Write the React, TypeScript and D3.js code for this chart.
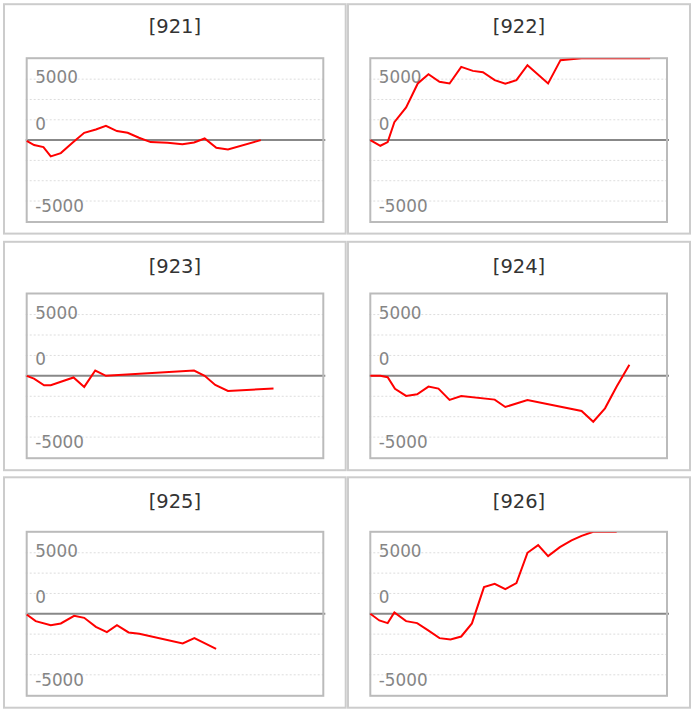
import React from "react";
import * as d3 from "d3";

// ---- data (x = day offset, y = value) ----
const titles = ["[921]", "[922]", "[923]", "[924]", "[925]", "[926]"];

const x921 = [0, 0.7, 1.58, 2.27, 3.22, 4.32, 5.43, 6.53, 7.48, 8.52, 9.53, 10.6, 11.7, 13.3, 14.7, 15.8, 16.8, 17.9, 19.0, 22.1];
const y921 = [-55, -410, -575, -1340, -1065, -220, 600, 875, 1175, 740, 600, 190, -165, -220, -330, -190, 135, -630, -765, 0];

const x922 = [0, 0.95, 1.64, 2.27, 3.38, 4.48, 5.49, 6.53, 7.48, 8.58, 9.68, 10.63, 11.74, 12.74, 13.79, 14.83, 16.78, 17.95, 19.94, 21.0, 22.1, 23.2, 24.3, 25.4, 26.4];
const y922 = [0, -465, -165, 1475, 2680, 4645, 5410, 4780, 4645, 6010, 5680, 5575, 4920, 4620, 4920, 6150, 4645, 6560, 6800, 7200, 7600, 8000, 8300, 8600, 8900];

const x923 = [0, 0.69, 1.64, 2.27, 4.42, 5.43, 6.47, 7.48, 15.8, 16.8, 17.8, 19.0, 23.3];
const y923 = [0, -220, -765, -765, -135, -900, 435, 0, 435, 0, -740, -1230, -1040];

const x924 = [0, 0.95, 1.64, 2.33, 3.38, 4.42, 5.49, 6.43, 7.48, 8.58, 11.74, 12.74, 14.83, 19.94, 21.04, 22.15, 23.25, 24.45];
const y924 = [0, 0, -110, -1065, -1640, -1500, -875, -1040, -1965, -1640, -1940, -2540, -1965, -2870, -3745, -2650, -875, 900];

const x925 = [0, 0.85, 2.27, 3.22, 4.48, 5.43, 6.53, 7.57, 8.52, 9.62, 10.63, 14.73, 15.83, 17.88];
const y925 = [-55, -600, -930, -790, -165, -330, -1065, -1500, -930, -1530, -1640, -2430, -1990, -2870];

const x926 = [0, 0.85, 1.64, 2.27, 3.38, 4.42, 5.43, 6.53, 7.57, 8.58, 9.59, 10.73, 11.74, 12.74, 13.79, 14.83, 15.84, 16.78, 17.89, 18.99, 19.94, 21.04, 23.25];
const y926 = [0, -545, -765, 110, -600, -765, -1340, -1995, -2100, -1860, -790, 2185, 2460, 2020, 2515, 5000, 5630, 4725, 5465, 6010, 6390, 6720, 7200];

const xDomain = [0, 28];
const yDomain = [-6720, 6720];
const gridValues = [5000, 10000 / 3, 5000 / 3, -5000 / 3, -10000 / 3, -5000];
const tickLabels = ["5000", "0", "-5000"];
const tickLabelAt = [5000, 5000 / 3, -5000];

const seriesX = [x921, x922, x923, x924, x925, x926];
const seriesY = [y921, y922, y923, y924, y925, y926];

// ---- layout ----
const cols = [
  { outerL: 4, outerR: 345.7, plotL: 26.7, plotR: 323.3 },
  { outerL: 348, outerR: 690, plotL: 370.3, plotR: 667 },
];
const rows = [
  { outerT: 4.2, outerB: 233.6, plotT: 58.2, plotB: 222, titleY: 33.3 },
  { outerT: 241.8, outerB: 470.2, plotT: 293.5, plotB: 458.2, titleY: 273 },
  { outerT: 477.3, outerB: 707.7, plotT: 531.8, plotB: 695.8, titleY: 508.3 },
];
const labelDy = [4.3, 10, 11];

function Panel({ i }: { i: number }) {
  const c = cols[i % 2];
  const r = rows[Math.floor(i / 2)];
  const x = d3.scaleLinear().domain(xDomain).range([c.plotL, c.plotR]);
  const y = d3.scaleLinear().domain(yDomain).range([r.plotB, r.plotT]).clamp(true);
  const pts = seriesX[i].map((d, k) => [d, seriesY[i][k]] as [number, number]);
  const line = d3
    .line<[number, number]>()
    .x((d) => x(d[0]))
    .y((d) => y(d[1]));
  const clipId = `clip${i}`;
  return (
    <g>
      <rect
        x={c.outerL}
        y={r.outerT}
        width={c.outerR - c.outerL}
        height={r.outerB - r.outerT}
        fill="#fff"
        stroke="#cccccc"
        strokeWidth={2}
      />
      <text
        x={(c.outerL + c.outerR) / 2}
        y={r.titleY}
        textAnchor="middle"
        fontFamily="DejaVu Sans"
        fontSize={19.5}
        fill="#333"
      >
        {titles[i]}
      </text>
      <clipPath id={clipId}>
        <rect x={c.plotL - 1} y={r.plotT + 0.4} width={c.plotR - c.plotL + 1} height={r.plotB - r.plotT} />
      </clipPath>
      {gridValues.map((g, k) => (
        <line
          key={k}
          x1={c.plotL - 1}
          x2={c.plotR}
          y1={y(g)}
          y2={y(g)}
          stroke="#dddddd"
          strokeWidth={1}
          strokeDasharray="2,2"
        />
      ))}
      {tickLabels.map((t, k) => (
        <text
          key={t}
          x={c.plotL + 8.5}
          y={y(tickLabelAt[k]) + labelDy[k]}
          fontFamily="DejaVu Sans"
          fontSize={16.8}
          fill="#858585"
        >
          {t}
        </text>
      ))}
      <line x1={c.plotL - 1} x2={c.plotR + 2} y1={y(0)} y2={y(0)} stroke="#888888" strokeWidth={2} />
      <rect
        x={c.plotL}
        y={r.plotT}
        width={c.plotR - c.plotL}
        height={r.plotB - r.plotT}
        fill="none"
        stroke="#bbbbbb"
        strokeWidth={2}
      />
      <path d={line(pts) || ""} fill="none" stroke="#ff0000" strokeWidth={2} clipPath={`url(#${clipId})`} />
    </g>
  );
}

export default function App() {
  return (
    <svg
      width={694}
      height={712}
      style={{ position: "absolute", left: 0, top: 0, background: "#fff" }}
    >
      {titles.map((_, i) => (
        <Panel key={i} i={i} />
      ))}
    </svg>
  );
}
